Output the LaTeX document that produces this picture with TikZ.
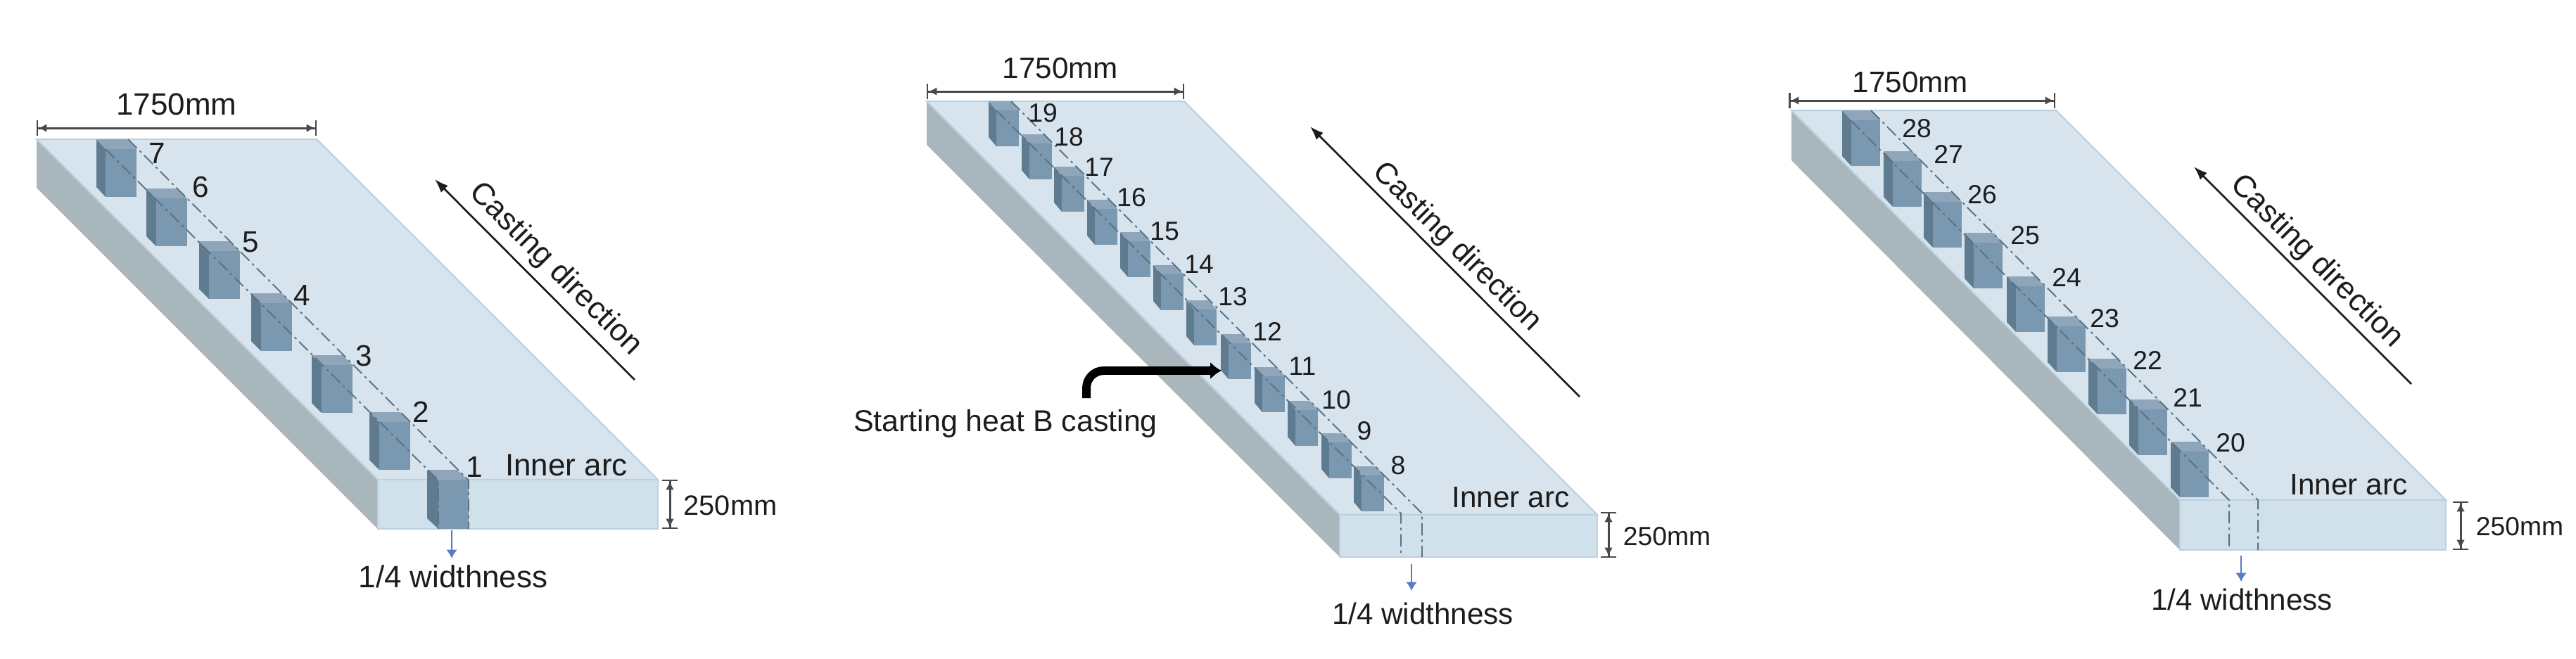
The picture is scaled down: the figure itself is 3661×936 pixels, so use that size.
\documentclass[tikz,border=0pt]{standalone}
\usepackage{fontspec}
\setmainfont{Liberation Sans}
\usetikzlibrary{arrows.meta}
\definecolor{slabtop}{RGB}{215, 228, 238}
\definecolor{slabfront}{RGB}{208, 225, 235}
\definecolor{slabside}{RGB}{169, 182, 187}
\definecolor{slabedge}{RGB}{188, 208, 224}
\definecolor{blocktop}{RGB}{143, 166, 186}
\definecolor{blockfront}{RGB}{122, 152, 176}
\definecolor{blockleft}{RGB}{95, 123, 144}
\definecolor{cutcolor}{RGB}{90, 115, 132}
\definecolor{pointer}{RGB}{84, 125, 196}
\definecolor{ink}{RGB}{28, 28, 28}
\newcommand{\specimen}[6]{
    \fill[blockleft] (#1,#2) -- ++(#4,#5) -- ++(0,#6) -- ++(-#4,-#5) -- cycle;
    \fill[blocktop] (#1,#2) -- ++(#3,0) -- ++(#4,#5) -- ++(-#3,0) -- cycle;
    \fill[blockfront] (#1,#2) ++(#4,#5) rectangle ++(#3,#6);
}
\newcommand{\slab}[8]{
    \fill[slabside] (#1,#3) -- (#5,#6) -- (#5,#7) -- (#1,#4) -- cycle;
    \filldraw[slabtop, draw=slabedge, line width=0.6pt] (#1,#3) -- (#2,#3) -- (#8,#6) -- (#5,#6) -- cycle;
    \filldraw[slabfront, draw=slabedge, line width=0.6pt] (#5,#6) rectangle (#8,#7);
}
\begin{document}
\begin{tikzpicture}[
        x=0.01cm, y=-0.01cm,
        txt/.style={inner sep=0pt, text=ink, font=\fontsize{12.5}{14}\selectfont},
        txtmid/.style={inner sep=0pt, text=ink, font=\fontsize{12}{14}\selectfont},
        txtsmall/.style={inner sep=0pt, text=ink, font=\fontsize{10.6}{13}\selectfont},
        dimline/.style={{Bar[width=6.5pt, line width=0.7pt]Latex[length=3.4pt, width=3.4pt]}-{Latex[length=3.4pt, width=3.4pt]Bar[width=6.5pt, line width=0.7pt]}, line width=0.85pt, draw=ink!80},
        cutline/.style={draw=cutcolor, line width=0.55pt, dash pattern=on 5pt off 1.6pt on 1pt off 1.6pt},
        castarrow/.style={-{Latex[length=5.5pt, width=4pt]}, line width=0.75pt, draw=ink},
        quarterarrow/.style={-{Latex[length=3.5pt, width=4.5pt]}, line width=0.7pt, draw=pointer},
        heatarrow/.style={-{Latex[length=4.5pt, width=7pt]}, line width=3.4pt, draw=black, rounded corners=7pt}
    ]
    \useasboundingbox (0,0) rectangle (3661,936);

    \slab{52}{450}{198}{267}{537}{682}{752}{935}
    \specimen{137}{198}{44}{13}{14}{68}
    \specimen{208}{268}{44}{14}{14}{68}
    \specimen{283}{343}{44}{14}{14}{68}
    \specimen{357}{417}{44}{14}{14}{68}
    \specimen{443}{505}{44}{14}{14}{68}
    \specimen{525}{586}{44}{14}{14}{68}
    \specimen{607}{668}{43}{16}{15}{69}
    \coordinate (cutAa) at (182,198);
    \coordinate (cutAb) at (666,683);
    \coordinate (cutAc) at (666,752);
    \coordinate (cutBa) at (150,212);
    \coordinate (cutBb) at (623,683);
    \coordinate (cutBc) at (623,752);
    \draw[cutline] (cutAa) -- (cutAb) -- (cutAc);
    \draw[cutline] (cutBa) -- (cutBb) -- (cutBc);
    \node[txtmid] (n7) at (223,218) {7};
    \node[txtmid] (n6) at (285,266) {6};
    \node[txtmid] (n5) at (356,344) {5};
    \node[txtmid] (n4) at (429,420) {4};
    \node[txtmid] (n3) at (517,506) {3};
    \node[txtmid] (n2) at (598,586) {2};
    \node[txtmid] (n1) at (674,664) {1};
    \node[txt] (widthA) at (251,148) {1750mm};
    \coordinate (widthAl) at (52,182);
    \coordinate (widthAr) at (450,182);
    \draw[dimline] (widthAl) -- (widthAr);
    \node[txt] (innerA) at (805,662) {Inner arc};
    \coordinate (depthAt) at (952,682);
    \coordinate (depthAb) at (952,752);
    \draw[dimline] (depthAt) -- (depthAb);
    \node[txtsmall, font=\fontsize{11.3}{13}\selectfont] (depthlabelA) at (1038,719) {250mm};
    \coordinate (quarterAt) at (642,754);
    \coordinate (quarterAb) at (642,794);
    \draw[quarterarrow] (quarterAt) -- (quarterAb);
    \node[txt] (quarterA) at (644,820) {1/4 widthness};
    \coordinate (castAs) at (902,540);
    \coordinate (castAe) at (618,255);
    \draw[castarrow] (castAs) -- (castAe);
    \node[txt, rotate=-45] (castlabelA) at (789,383) {Casting direction};

    \slab{1317}{1683}{144}{206}{1904}{732}{792}{2270}
    \specimen{1405}{144}{32}{11}{13}{51}
    \specimen{1452}{191}{32}{11}{13}{51}
    \specimen{1498}{237}{32}{11}{13}{51}
    \specimen{1545}{284}{32}{11}{13}{51}
    \specimen{1592}{330}{32}{11}{13}{51}
    \specimen{1639}{377}{32}{11}{13}{51}
    \specimen{1686}{427}{32}{11}{13}{51}
    \specimen{1735}{475}{32}{11}{13}{51}
    \specimen{1783}{522}{32}{11}{13}{51}
    \specimen{1830}{570}{32}{11}{13}{51}
    \specimen{1878}{616}{32}{11}{13}{51}
    \specimen{1924}{663}{32}{11}{13}{51}
    \coordinate (cutCa) at (1437,144);
    \coordinate (cutCb) at (2021,730);
    \coordinate (cutCc) at (2021,792);
    \coordinate (cutDa) at (1416,157);
    \coordinate (cutDb) at (1991,730);
    \coordinate (cutDc) at (1991,792);
    \draw[cutline] (cutCa) -- (cutCb) -- (cutCc);
    \draw[cutline] (cutDa) -- (cutDb) -- (cutDc);
    \node[txtsmall] (n19) at (1482,161) {19};
    \node[txtsmall] (n18) at (1519,195) {18};
    \node[txtsmall] (n17) at (1562,238) {17};
    \node[txtsmall] (n16) at (1608,281) {16};
    \node[txtsmall] (n15) at (1655,329) {15};
    \node[txtsmall] (n14) at (1704,376) {14};
    \node[txtsmall] (n13) at (1752,422) {13};
    \node[txtsmall] (n12) at (1801,471) {12};
    \node[txtsmall] (n11) at (1851,521) {11};
    \node[txtsmall] (n10) at (1899,569) {10};
    \node[txtsmall] (n9) at (1939,613) {9};
    \node[txtsmall] (n8) at (1987,662) {8};
    \node[txtmid] (widthB) at (1507,97) {1750mm};
    \coordinate (widthBl) at (1317,130);
    \coordinate (widthBr) at (1683,130);
    \draw[dimline] (widthBl) -- (widthBr);
    \node[txtmid] (innerB) at (2147,707) {Inner arc};
    \coordinate (depthBt) at (2286,728);
    \coordinate (depthBb) at (2286,793);
    \draw[dimline] (depthBt) -- (depthBb);
    \node[txtsmall] (depthlabelB) at (2369,763) {250mm};
    \coordinate (quarterBt) at (2006,802);
    \coordinate (quarterBb) at (2006,840);
    \draw[quarterarrow] (quarterBt) -- (quarterBb);
    \node[txtmid] (quarterB) at (2022,872) {1/4 widthness};
    \coordinate (castBs) at (2245,564);
    \coordinate (castBe) at (1862,180);
    \draw[castarrow] (castBs) -- (castBe);
    \node[txt, rotate=-45, font=\fontsize{12.2}{14}\selectfont] (castlabelB) at (2070,352) {Casting direction};
    \node[txt, font=\fontsize{12.2}{14}\selectfont] (heat) at (1429,602) {Starting heat B casting};
    \coordinate (heatstart) at (1544,566);
    \coordinate (heatend) at (1736,527);
    \draw[heatarrow] (heatstart) |- (heatend);

    \slab{2546}{2922}{157}{228}{3098}{711}{782}{3476}
    \specimen{2618}{157}{41}{13}{14}{65}
    \specimen{2677}{215}{41}{13}{14}{65}
    \specimen{2734}{273}{41}{13}{14}{65}
    \specimen{2792}{331}{41}{13}{14}{65}
    \specimen{2852}{393}{41}{13}{14}{65}
    \specimen{2910}{450}{41}{13}{14}{65}
    \specimen{2968}{510}{41}{13}{14}{65}
    \specimen{3026}{568}{41}{13}{14}{65}
    \specimen{3085}{628}{41}{13}{14}{65}
    \coordinate (cutEa) at (2659,157);
    \coordinate (cutEb) at (3209,711);
    \coordinate (cutEc) at (3209,782);
    \coordinate (cutFa) at (2631,172);
    \coordinate (cutFb) at (3168,711);
    \coordinate (cutFc) at (3168,782);
    \draw[cutline] (cutEa) -- (cutEb) -- (cutEc);
    \draw[cutline] (cutFa) -- (cutFb) -- (cutFc);
    \node[txtsmall] (n28) at (2724,183) {28};
    \node[txtsmall] (n27) at (2769,219) {27};
    \node[txtsmall] (n26) at (2817,277) {26};
    \node[txtsmall] (n25) at (2878,335) {25};
    \node[txtsmall] (n24) at (2937,394) {24};
    \node[txtsmall] (n23) at (2991,453) {23};
    \node[txtsmall] (n22) at (3052,512) {22};
    \node[txtsmall] (n21) at (3109,565) {21};
    \node[txtsmall] (n20) at (3170,630) {20};
    \node[txtmid] (widthC) at (2715,117) {1750mm};
    \coordinate (widthCl) at (2542,143);
    \coordinate (widthCr) at (2921,143);
    \draw[dimline] (widthCl) -- (widthCr);
    \node[txtmid] (innerC) at (3338,689) {Inner arc};
    \coordinate (depthCt) at (3497,713);
    \coordinate (depthCb) at (3497,782);
    \draw[dimline] (depthCt) -- (depthCb);
    \node[txtsmall] (depthlabelC) at (3581,749) {250mm};
    \coordinate (quarterCt) at (3185,790);
    \coordinate (quarterCb) at (3185,827);
    \draw[quarterarrow] (quarterCt) -- (quarterCb);
    \node[txtmid] (quarterC) at (3186,852) {1/4 widthness};
    \coordinate (castCs) at (3427,546);
    \coordinate (castCe) at (3118,237);
    \draw[castarrow] (castCs) -- (castCe);
    \node[txt, rotate=-45] (castlabelC) at (3292,372) {Casting direction};
\end{tikzpicture}
\end{document}
